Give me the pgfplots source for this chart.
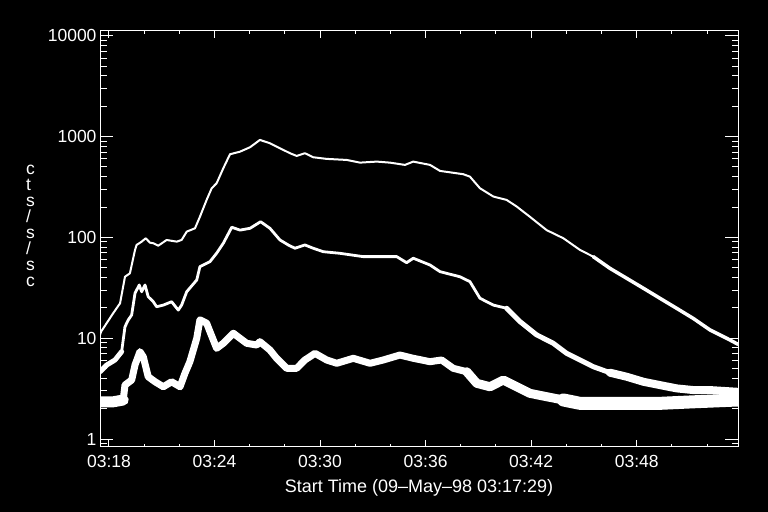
\documentclass[border=0pt]{standalone}
\usepackage{fontspec}
\setmainfont{Liberation Sans}
\usepackage{pgfplots}
\pgfplotsset{compat=1.18}

% x: minutes after 03:18:00 ; y: cts/s/sc
\pgfplotstableread{
x y
-0.51 10.8
-0.45 11.6
0.24 17.7
0.63 22.2
0.91 40.7
1.19 44.0
1.48 75.0
1.57 84.1
1.86 90.7
2.09 98
2.33 88.6
2.52 87.4
2.80 82.7
3.28 94.2
3.85 90.7
4.13 94.2
4.42 114
4.89 123
5.17 160
5.55 235
5.84 307
6.12 344
6.50 485
6.88 667
7.45 708
8.02 783
8.58 925
9.15 858
9.72 765
10.29 683
10.67 642
11.14 683
11.61 623
12.38 600
13.51 586
14.27 551
15.22 564
15.97 551
16.83 523
17.30 564
18.25 523
18.82 456
20.14 423
20.52 400
21.09 307
21.85 254
22.61 235
23.18 202
23.93 160
24.88 118
25.83 98
26.78 75
27.53 64.4
28.48 49.3
29.43 39.3
30.38 31.3
31.32 24.9
32.27 19.8
33.22 15.7
34.16 12.1
35.12 9.98
35.76 8.7
}\curveA

\pgfplotstableread{
x y
-0.51 4.65
-0.13 5.42
0.34 6.08
0.72 7.35
0.91 13.0
1.10 15.2
1.29 17.0
1.48 27.9
1.72 33.7
1.86 28.9
2.05 33.7
2.23 25.8
2.52 23.0
2.71 20.5
3.09 21.3
3.56 23.0
3.94 19.0
4.13 21.3
4.42 28.9
4.99 37.8
5.17 51.2
5.74 57.4
6.12 69.6
6.50 87.4
6.98 126
7.45 118
8.02 123
8.62 143
9.15 123
9.72 94.2
10.19 84.1
10.57 78
11.14 84.1
11.61 78
12.18 72.1
13.13 69.5
14.46 64.4
15.41 64.4
16.36 64.4
16.92 56.1
17.30 62.1
18.25 53.2
18.82 45.7
19.95 40.7
20.52 36.4
21.09 24.9
21.85 21.3
22.61 19.8
23.37 14.6
24.31 10.8
25.26 8.9
26.02 7.08
26.78 6.08
27.53 5.22
28.48 4.55
29.43 4.15
30.38 3.70
31.32 3.43
32.27 3.18
33.22 3.06
34.16 3.06
35.76 2.94
}\curveB

\pgfplotstableread{
x y
-0.51 2.34
0.24 2.34
0.81 2.44
0.91 3.43
1.29 3.85
1.48 5.42
1.76 7.35
1.95 6.55
2.23 4.15
2.62 3.70
3.09 3.30
3.56 3.70
4.04 3.30
4.32 4.49
4.60 5.85
4.99 9.98
5.17 15.2
5.55 14.1
5.93 9.6
6.12 7.94
6.50 8.9
7.07 11.2
7.45 9.98
7.83 8.9
8.40 8.56
8.58 9.23
9.15 7.64
9.53 6.32
10.10 5.03
10.67 5.03
11.14 6.08
11.71 7.08
12.38 6.08
12.95 5.64
13.89 6.32
14.84 5.64
15.59 6.08
16.54 6.81
17.30 6.32
18.25 5.85
18.91 6.08
19.57 5.03
20.34 4.65
20.91 3.57
21.66 3.30
22.42 3.85
23.18 3.30
23.93 2.84
24.88 2.63
25.83 2.44
26.78 2.26
27.53 2.26
29.43 2.26
31.32 2.26
33.22 2.34
35.76 2.44
}\curveC

\begin{document}
\begin{tikzpicture}
\fill[black] (0,0) rectangle (768bp,512bp);
% axis with x ticks and the curves
\begin{axis}[
  at={(100bp,65bp)}, anchor=south west,
  scale only axis, width=638bp, height=416bp,
  xmin=-0.51, xmax=35.76,
  ymode=log, ymin=0.834, ymax=11130,
  axis line style={white, line width=1bp},
  tick style={white, line width=1bp},
  tick align=inside,
  ticklabel style={font=\fontsize{17.5bp}{20bp}\selectfont, text=white},
  major tick length=7bp, minor tick length=3.5bp,
  xtick={0,6,12,18,24,30},
  xticklabels={03:18,03:24,03:30,03:36,03:42,03:48},
  minor xtick={2,4,8,10,14,16,20,22,26,28,32,34},
  xticklabel style={yshift=-5bp},
  ytick=\empty, minor ytick={},
  every axis plot/.append style={white, line join=round, line cap=round},
]
% lowest curve: noisy band, widest where counts are lowest
\addplot[line width=11bp, restrict x to domain=-1:0.85] table {\curveC};
\addplot[line width=7bp, restrict x to domain=0.8:20.5] table {\curveC};
\addplot[line width=9bp, restrict x to domain=20.3:25.9] table {\curveC};
\addplot[line width=13bp, restrict x to domain=25.8:40] table {\curveC};
% middle curve
\addplot[line width=5bp, restrict x to domain=-1:0.8] table {\curveB};
\addplot[line width=2.8bp, restrict x to domain=0.7:22.7] table {\curveB};
\addplot[line width=5bp, restrict x to domain=22.6:28.5] table {\curveB};
\addplot[line width=8bp, restrict x to domain=28.4:40] table {\curveB};
% top curve
\addplot[line width=2bp, restrict x to domain=-1:27.6] table {\curveA};
\addplot[line width=3.5bp, restrict x to domain=27.5:40] table {\curveA};
\end{axis}
% axis with y ticks
\begin{axis}[
  at={(100bp,65bp)}, anchor=south west,
  scale only axis, width=638bp, height=416bp,
  xmin=-0.51, xmax=35.76,
  ymode=log, ymin=0.834, ymax=11130,
  axis line style={white, line width=1bp},
  tick style={white, line width=1bp},
  tick align=inside,
  ticklabel style={font=\fontsize{17.5bp}{20bp}\selectfont, text=white},
  major tick length=13bp, minor tick length=6.5bp,
  xtick=\empty, minor xtick={},
  ytick={1,10,100,1000,10000},
  yticklabels={1,10,100,1000,10000},
  minor ytick={0.9,2,3,4,5,6,7,8,9,20,30,40,50,60,70,80,90,200,300,400,500,600,700,800,900,2000,3000,4000,5000,6000,7000,8000,9000},
]
\end{axis}
\node[anchor=base, text=white, font=\fontsize{18bp}{20bp}\selectfont] at (419bp,20bp) {Start Time (09–May–98 03:17:29)};
\foreach \ch [count=\i] in {c,t,s,/,s,/,s,c}
  \node[anchor=base west, inner sep=0pt, text=white, font=\fontsize{17.5bp}{20bp}\selectfont] at (26bp,{(337.7-16*(\i-1))*1bp}) {\ch};
\pgfresetboundingbox
\useasboundingbox (0,0) rectangle (768bp,512bp);
\end{tikzpicture}
\end{document}
